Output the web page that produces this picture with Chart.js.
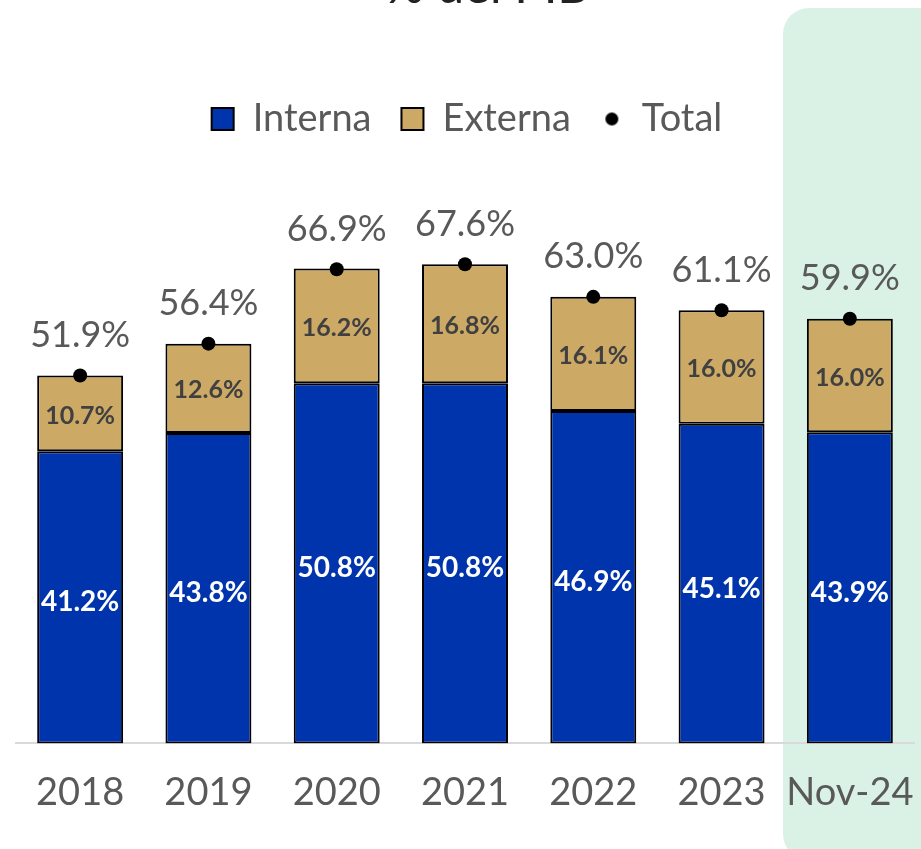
<!DOCTYPE html>
<html>
<head>
<meta charset="utf-8">
<script src="https://cdn.jsdelivr.net/npm/chart.js@4/dist/chart.umd.min.js"></script>
<style>
html, body { margin: 0; padding: 0; background: #fff; overflow: hidden; }
#wrap { position: relative; width: 921px; height: 849px; overflow: hidden; }
#panel { position: absolute; left: 783px; top: 8px; width: 170px; height: 852px; border-radius: 26px; background: #d9f2e5; }
#title { position: absolute; left: 0; width: 974px; top: -45px; text-align: center; font: 49px Lato, sans-serif; color: #222; }
canvas { position: absolute; left: 0; top: 0; }
</style>
</head>
<body>
<div id="wrap">
  <div id="panel"></div>
  <div id="title">% del PIB</div>
  <canvas id="chart" width="921" height="849"></canvas>
</div>
<script>
const categories = ['2018', '2019', '2020', '2021', '2022', '2023', 'Nov-24'];
const interna = [41.2, 43.8, 50.8, 50.8, 46.9, 45.1, 43.9];
const externa = [10.7, 12.6, 16.2, 16.8, 16.1, 16.0, 16.0];
const total = [51.9, 56.4, 66.9, 67.6, 63.0, 61.1, 59.9];

// small black dot for the "Total" legend entry
const dot = document.createElement('canvas');
dot.width = 15; dot.height = 15;
const dctx = dot.getContext('2d');
dctx.fillStyle = '#000';
dctx.beginPath(); dctx.arc(7.5, 7.5, 6.5, 0, Math.PI * 2); dctx.fill();

const valueLabels = {
    id: 'valueLabels',
    afterDatasetsDraw(chart) {
        const ctx = chart.ctx;
        ctx.save();
        ctx.textAlign = 'center';
        ctx.textBaseline = 'middle';
        chart.data.datasets.forEach((ds, i) => {
            const meta = chart.getDatasetMeta(i);
            meta.data.forEach((el, j) => {
                const txt = ds.data[j].toFixed(1) + '%';
                if (ds.type === 'line') {
                    ctx.font = '36px Lato';
                    ctx.fillStyle = '#595959';
                    ctx.fillText(txt, el.x, el.y - 40);
                } else if (i === 0) {
                    ctx.font = 'bold 28px Lato';
                    ctx.fillStyle = '#fff';
                    ctx.fillText(txt, el.x, (el.y + el.base) / 2 + 5);
                } else {
                    ctx.font = 'bold 25px Lato';
                    ctx.fillStyle = '#404040';
                    ctx.fillText(txt, el.x, (el.y + el.base) / 2 + 2);
                }
            });
        });
        ctx.restore();
    }
};

const ctx = document.getElementById('chart').getContext('2d');
new Chart(ctx, {
    type: 'bar',
    data: {
        labels: categories,
        datasets: [
            {
                label: 'Interna',
                data: interna,
                backgroundColor: '#0034ad',
                borderColor: '#000',
                borderWidth: 2,
                borderSkipped: false,
                barPercentage: 0.67,
                categoryPercentage: 1
            },
            {
                label: 'Externa',
                data: externa,
                backgroundColor: '#cda966',
                borderColor: '#000',
                borderWidth: 2,
                borderSkipped: false,
                barPercentage: 0.67,
                categoryPercentage: 1
            },
            {
                type: 'line',
                label: 'Total',
                data: total,
                stack: 'total',
                order: -1,
                showLine: false,
                pointRadius: 7,
                pointBackgroundColor: '#000',
                pointBorderWidth: 0,
                backgroundColor: '#000'
            }
        ]
    },
    options: {
        responsive: false,
        animation: false,
        layout: { padding: { top: 70, left: 16, right: 3, bottom: 14 } },
        plugins: {
            tooltip: { enabled: false },
            legend: {
                position: 'top',
                labels: {
                    usePointStyle: true,
                    boxHeight: 22,
                    boxWidth: 22,
                    padding: 30,
                    color: '#595959',
                    font: { family: 'Lato', size: 38 },
                    generateLabels: chart => chart.data.datasets.map((ds, i) => ({
                        text: ds.label,
                        fillStyle: ds.backgroundColor,
                        strokeStyle: '#000',
                        lineWidth: i < 2 ? 2 : 0,
                        pointStyle: i < 2 ? 'rect' : dot,
                        datasetIndex: i,
                        hidden: false,
                        fontColor: '#595959'
                    }))
                }
            }
        },
        scales: {
            x: {
                stacked: true,
                grid: { display: false },
                border: { color: '#d9d9d9', width: 2 },
                ticks: {
                    color: '#595959',
                    padding: 19,
                    maxRotation: 0,
                    minRotation: 0,
                    autoSkip: false,
                    font: { family: 'Lato', size: 38 }
                },
                // let the last label run to the edge instead of shrinking the plot
                afterFit: scale => { scale.paddingLeft = 0; scale.paddingRight = 0; }
            },
            y: {
                stacked: true,
                display: false,
                min: 0,
                max: 84
            }
        }
    },
    plugins: [valueLabels]
});
</script>
</body>
</html>
